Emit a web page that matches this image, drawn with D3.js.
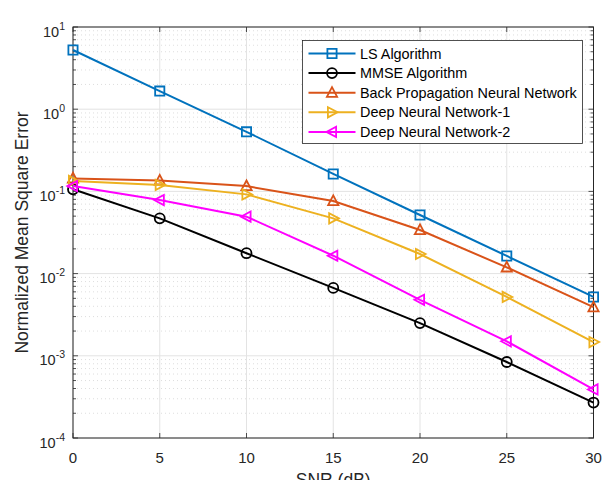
<!DOCTYPE html>
<html>
<head>
<meta charset="utf-8">
<script src="https://cdn.jsdelivr.net/npm/d3@7"></script>
<style>
  body { margin: 0; background: #fff; }
  svg { font-family: "Liberation Sans", Arial, sans-serif; }
</style>
</head>
<body>
<script>
// SNR points
const snr = [0, 5, 10, 15, 20, 25, 30];

// NMSE series
const lsVals   = [5.25, 1.66, 0.53, 0.163, 0.0516, 0.0164, 0.0052];
const mmseVals = [0.106, 0.047, 0.0177, 0.0067, 0.0025, 0.00084, 0.00027];
const bpnnVals = [0.144, 0.136, 0.116, 0.0764, 0.0339, 0.0119, 0.0039];
const dnn1Vals = [0.134, 0.12, 0.092, 0.047, 0.0173, 0.0052, 0.00147];
const dnn2Vals = [0.116, 0.0785, 0.0493, 0.0165, 0.0048, 0.0015, 0.00039];

const seriesNames = ["LS Algorithm", "MMSE Algorithm", "Back Propagation Neural Network",
    "Deep Neural Network-1", "Deep Neural Network-2"];
const seriesColors = ["#0072BD", "#000000", "#D95319", "#EDB120", "#FF00FF"];
const seriesMarkers = ["square", "circle", "triUp", "triRight", "triLeft"];
const seriesVals = [lsVals, mmseVals, bpnnVals, dnn1Vals, dnn2Vals];

const xTicks = [0, 5, 10, 15, 20, 25, 30];
const yExps = [-4, -3, -2, -1, 0, 1];

const width = 614, height = 480;
const margin = {left: 73, right: 20.5, top: 27, bottom: 42};

const svg = d3.select("body").append("svg")
    .attr("width", width)
    .attr("height", height);

const x = d3.scaleLinear().domain([0, 30]).range([margin.left, width - margin.right]);
const y = d3.scaleLog().domain([1e-4, 10]).range([height - margin.bottom, margin.top]);

const x0 = x.range()[0], x1 = x.range()[1];
const y0 = y.range()[0], y1 = y.range()[1];

// minor values in each decade
let minorVals = [];
yExps.slice(0, -1).forEach(e => {
    for (let k = 2; k <= 9; k++) minorVals.push(k * Math.pow(10, e));
});

const grid = svg.append("g");
grid.selectAll(".minor")
    .data(minorVals)
    .enter().append("line")
    .attr("x1", x0).attr("x2", x1)
    .attr("y1", d => y(d)).attr("y2", d => y(d))
    .style("stroke", "#d6d6d6")
    .style("stroke-width", 0.8)
    .style("stroke-dasharray", "1,3");

grid.selectAll(".majy")
    .data(yExps)
    .enter().append("line")
    .attr("x1", x0).attr("x2", x1)
    .attr("y1", d => y(Math.pow(10, d))).attr("y2", d => y(Math.pow(10, d)))
    .style("stroke", "#e3e3e3")
    .style("stroke-width", 1);

grid.selectAll(".majx")
    .data(xTicks)
    .enter().append("line")
    .attr("x1", d => x(d)).attr("x2", d => x(d))
    .attr("y1", y0).attr("y2", y1)
    .style("stroke", "#e3e3e3")
    .style("stroke-width", 1);

// box + inward ticks
const axisColor = "#262626";
const ticks = svg.append("g").style("stroke", axisColor).style("stroke-width", 0.8);
xTicks.forEach(t => {
    ticks.append("line").attr("x1", x(t)).attr("x2", x(t)).attr("y1", y0).attr("y2", y0 - 5);
    ticks.append("line").attr("x1", x(t)).attr("x2", x(t)).attr("y1", y1).attr("y2", y1 + 5);
});
yExps.forEach(e => {
    const yy = y(Math.pow(10, e));
    ticks.append("line").attr("x1", x0).attr("x2", x0 + 5).attr("y1", yy).attr("y2", yy);
    ticks.append("line").attr("x1", x1).attr("x2", x1 - 5).attr("y1", yy).attr("y2", yy);
});
minorVals.forEach(v => {
    const yy = y(v);
    ticks.append("line").attr("x1", x0).attr("x2", x0 + 3).attr("y1", yy).attr("y2", yy);
    ticks.append("line").attr("x1", x1).attr("x2", x1 - 3).attr("y1", yy).attr("y2", yy);
});
svg.append("rect")
    .attr("x", x0).attr("y", y1)
    .attr("width", x1 - x0).attr("height", y0 - y1)
    .style("fill", "none")
    .style("stroke", axisColor)
    .style("stroke-width", 1);

// tick labels
svg.append("g").selectAll("text")
    .data(xTicks)
    .enter().append("text")
    .attr("x", d => x(d))
    .attr("y", y0 + 24.5)
    .attr("text-anchor", "middle")
    .style("font-size", "15px")
    .style("fill", axisColor)
    .text(d => d);

const yl = svg.append("g").selectAll("text")
    .data(yExps)
    .enter().append("text")
    .attr("x", x0 - 8)
    .attr("y", d => y(Math.pow(10, d)) + 9.5)
    .attr("text-anchor", "end")
    .style("font-size", "14.5px")
    .style("fill", axisColor);
yl.append("tspan").text("10");
yl.append("tspan")
    .attr("dy", -7)
    .style("font-size", "10.5px")
    .text(d => d);

// axis titles
svg.append("text")
    .attr("x", (x0 + x1) / 2)
    .attr("y", y0 + 47.5)
    .attr("text-anchor", "middle")
    .style("font-size", "17.5px")
    .style("fill", axisColor)
    .text("SNR (dB)");

svg.append("text")
    .attr("transform", `translate(27.5, ${(y0 + y1) / 2}) rotate(-90)`)
    .attr("text-anchor", "middle")
    .style("font-size", "17.5px")
    .style("fill", axisColor)
    .text("Normalized Mean Square Error");

// marker shapes, centred on 0,0
function markerPath(kind) {
    const s = 4.6;
    if (kind === "square") return `M${-s},${-s}H${s}V${s}H${-s}Z`;
    if (kind === "triUp") return `M0,${-s - 1}L${s + 0.5},${s - 0.5}L${-s - 0.5},${s - 0.5}Z`;
    if (kind === "triRight") return `M${s + 1},0L${-s + 0.5},${s + 0.5}L${-s + 0.5},${-s - 0.5}Z`;
    if (kind === "triLeft") return `M${-s - 1},0L${s - 0.5},${s + 0.5}L${s - 0.5},${-s - 0.5}Z`;
    return null;
}

function drawMarker(g, kind, color, cx, cy) {
    if (kind === "circle") {
        g.append("circle").attr("cx", cx).attr("cy", cy).attr("r", 5)
            .style("fill", "none").style("stroke", color).style("stroke-width", 1.8);
    } else {
        g.append("path").attr("d", markerPath(kind))
            .attr("transform", `translate(${cx},${cy})`)
            .style("fill", "none").style("stroke", color).style("stroke-width", 1.8)
            .style("stroke-linejoin", "miter");
    }
}

const line = d3.line()
    .x((d, i) => x(snr[i]))
    .y(d => y(d));

const plot = svg.append("g");
seriesVals.forEach((vals, si) => {
    const g = plot.append("g");
    g.append("path")
        .attr("d", line(vals))
        .style("fill", "none")
        .style("stroke", seriesColors[si])
        .style("stroke-width", 2);
    vals.forEach((v, i) => drawMarker(g, seriesMarkers[si], seriesColors[si], x(snr[i]), y(v)));
});

// legend
const lg = svg.append("g").attr("transform", "translate(302.5, 40.5)");
lg.append("rect")
    .attr("width", 280).attr("height", 103)
    .style("fill", "#fff")
    .style("stroke", axisColor)
    .style("stroke-width", 0.8);
seriesNames.forEach((name, i) => {
    const ry = 13 + i * 19.6;
    lg.append("line")
        .attr("x1", 6).attr("x2", 53)
        .attr("y1", ry).attr("y2", ry)
        .style("stroke", seriesColors[i])
        .style("stroke-width", 2);
    drawMarker(lg, seriesMarkers[i], seriesColors[i], 29.5, ry);
    lg.append("text")
        .attr("x", 57.5)
        .attr("y", ry + 5)
        .style("font-size", "14.4px")
        .style("fill", "#000")
        .text(name);
});
</script>
</body>
</html>
